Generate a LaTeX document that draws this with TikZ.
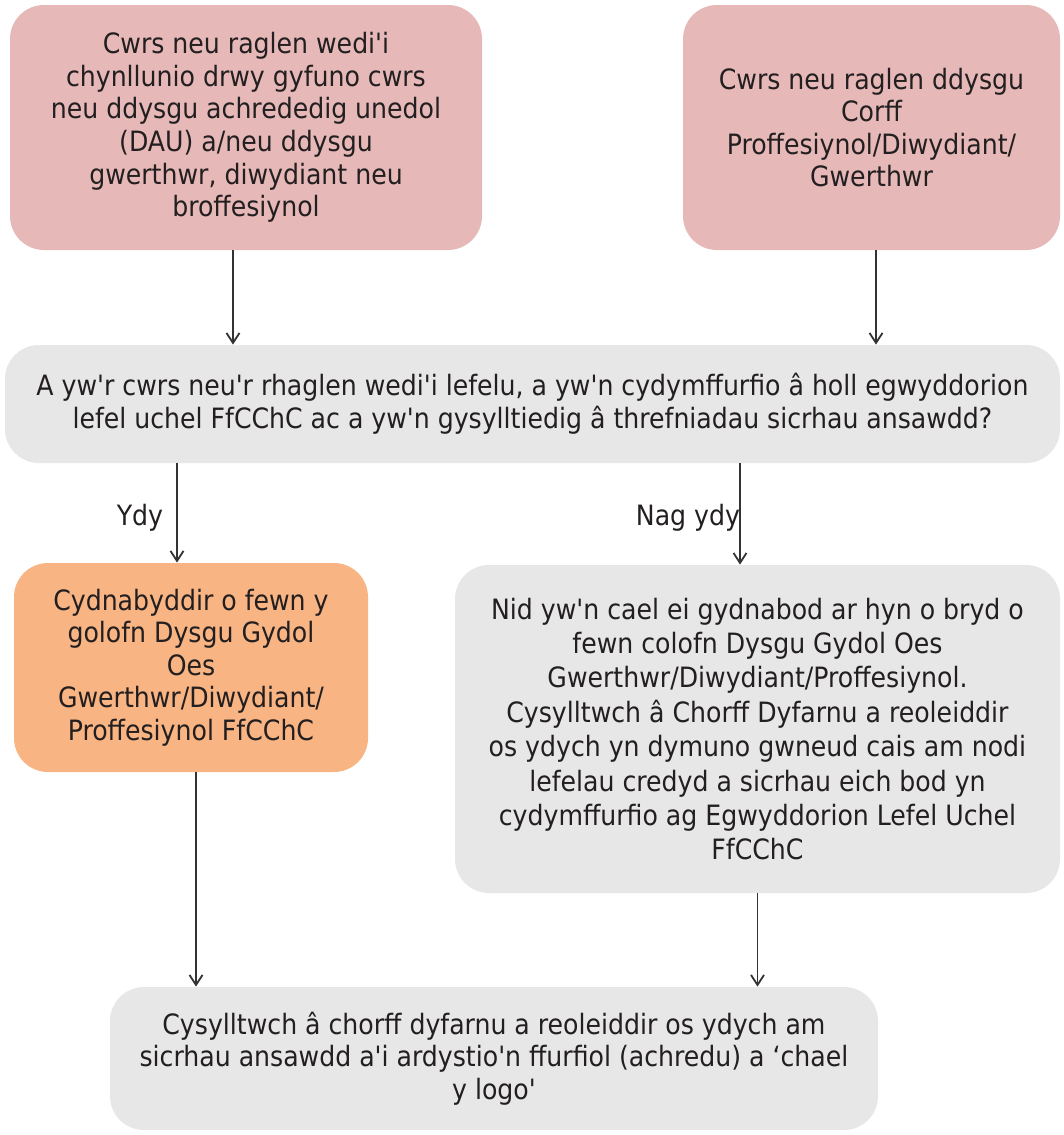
\documentclass[tikz,border=0pt]{standalone}
\usepackage{fontspec}
\setmainfont{DejaVu Sans Condensed}[Ligatures=TeXOff]
\usetikzlibrary{arrows.meta,positioning}
\definecolor{pinkbox}{HTML}{E6B9B8}
\definecolor{orangebox}{HTML}{F8B482}
\definecolor{greybox}{HTML}{E7E7E7}
\definecolor{txt}{HTML}{231F20}
\begin{document}
\begin{tikzpicture}[x=0.5pt,y=-0.5pt,
  box/.style={rectangle,rounded corners=17pt,draw=none,align=center,text=txt,
    font=\fontsize{14pt}{16.3pt}\selectfont,inner sep=0pt},
  pinkb/.style={box,fill=pinkbox},
  orangeb/.style={box,fill=orangebox},
  greyb/.style={box,fill=greybox},
  arr/.style={draw=black!80,line width=0.9pt,-{Straight Barb[length=5pt,width=6.5pt,line width=0.9pt]}},
  lbl/.style={font=\fontsize{14pt}{16pt}\selectfont,text=txt,inner sep=0pt}]
\useasboundingbox (0,0) rectangle (1064,1135);
\fill[white] (0,0) rectangle (1064,1135);

\node[pinkb,minimum width=236pt,minimum height=122.5pt] (b1) at (246,127.5)
  {Cwrs neu raglen wedi'i\\chynllunio drwy gyfuno cwrs\\neu ddysgu achrededig unedol\\(DAU) a/neu ddysgu\\gwerthwr, diwydiant neu\\broffesiynol};
\node[pinkb,minimum width=188.5pt,minimum height=122.5pt] (b2) at (871.5,127.5)
  {Cwrs neu raglen ddysgu\\Corff\\Proffesiynol/Diwydiant/\\Gwerthwr};
\node[greyb,minimum width=527.5pt,minimum height=59pt] (b3) at (532.5,404)
  {A yw'r cwrs neu'r rhaglen wedi'i lefelu, a yw'n cydymffurfio â holl egwyddorion\\lefel uchel FfCChC ac a yw'n gysylltiedig â threfniadau sicrhau ansawdd?};
\node[orangeb,minimum width=177pt,minimum height=104.5pt] (b4) at (191,667.5)
  {Cydnabyddir o fewn y\\golofn Dysgu Gydol\\Oes\\Gwerthwr/Diwydiant/\\Proffesiynol FfCChC};
\node[greyb,minimum width=302.5pt,minimum height=164pt,font=\fontsize{14pt}{17.2pt}\selectfont] (b5) at (757.5,729)
  {Nid yw'n cael ei gydnabod ar hyn o bryd o\\fewn colofn Dysgu Gydol Oes\\Gwerthwr/Diwydiant/Proffesiynol.\\Cysylltwch â Chorff Dyfarnu a reoleiddir\\os ydych yn dymuno gwneud cais am nodi\\lefelau credyd a sicrhau eich bod yn\\cydymffurfio ag Egwyddorion Lefel Uchel\\FfCChC};
\node[greyb,minimum width=384pt,minimum height=71.5pt] (b6) at (494,1058.5)
  {Cysylltwch â chorff dyfarnu a reoleiddir os ydych am\\sicrhau ansawdd a'i ardystio'n ffurfiol (achredu) a ‘chael\\y logo'};

\node[lbl] (ydy) at (140,518) {Ydy};
\node[lbl] (nag) at (688,518) {Nag ydy};

\draw[arr] ([xshift=-6.5pt]b1.south) -- ([xshift=-6.5pt]b1.south |- b3.north);
\draw[arr] ([xshift=2.25pt]b2.south) -- ([xshift=2.25pt]b2.south |- b3.north);
\draw[arr] ([xshift=-177.75pt]b3.south) -- ([xshift=-177.75pt]b3.south |- b4.north);
\draw[arr] ([xshift=103.75pt]b3.south) -- ([xshift=103.75pt]b3.south |- b5.north);
\draw[arr] ([xshift=2.5pt]b4.south) -- ([xshift=2.5pt]b4.south |- b6.north);
\draw[arr] (b5.south) -- (b5.south |- b6.north);
\end{tikzpicture}
\end{document}
